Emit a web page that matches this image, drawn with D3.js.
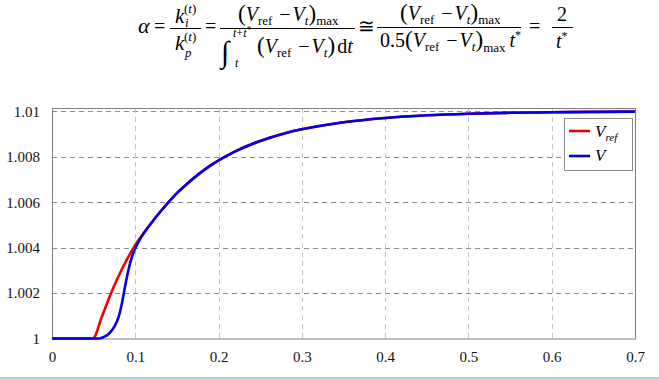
<!DOCTYPE html>
<html>
<head>
<meta charset="utf-8">
<script src="https://cdn.jsdelivr.net/npm/d3@7"></script>
<style>
  body { margin: 0; background: #fff; }
  svg { display: block; }
  text { font-family: 'Liberation Serif', 'Times New Roman', serif; }
</style>
</head>
<body>
<div class="drawingArea"></div>
<script>
// data
var tRef = [0, 0.049, 0.06, 0.07, 0.08, 0.09, 0.1, 0.11, 0.12, 0.13, 0.14, 0.15, 0.16, 0.18, 0.2, 0.22, 0.25, 0.28, 0.3, 0.35, 0.4, 0.45, 0.5, 0.55, 0.6, 0.65, 0.7];
var vRef = [1, 1, 1.00097, 1.00192, 1.00275, 1.00348, 1.00412, 1.00464, 1.00512, 1.00558, 1.00601, 1.0064, 1.00674, 1.00735, 1.00784, 1.00824, 1.0087, 1.00904, 1.00921, 1.00952, 1.00971, 1.00983, 1.0099, 1.00994, 1.00996, 1.00998, 1.00999];

var tV = [0, 0.056, 0.06, 0.064, 0.068, 0.072, 0.076, 0.08, 0.084, 0.088, 0.092, 0.096, 0.1, 0.105, 0.11, 0.12, 0.13, 0.14, 0.15, 0.16, 0.18, 0.2, 0.22, 0.25, 0.28, 0.3, 0.35, 0.4, 0.45, 0.5, 0.55, 0.6, 0.65, 0.7];
var vV = [1, 1, 1.00003, 1.0001, 1.0002, 1.00036, 1.0006, 1.00095, 1.00155, 1.00235, 1.00305, 1.0036, 1.00396, 1.00433, 1.00462, 1.00512, 1.00558, 1.00601, 1.0064, 1.00674, 1.00735, 1.00784, 1.00824, 1.0087, 1.00904, 1.00921, 1.00952, 1.00971, 1.00983, 1.0099, 1.00994, 1.00996, 1.00998, 1.00999];

var xTicks = [0, 0.1, 0.2, 0.3, 0.4, 0.5, 0.6, 0.7];
var yTicks = [1, 1.002, 1.004, 1.006, 1.008, 1.01];
var yTickLabels = ["1", "1.002", "1.004", "1.006", "1.008", "1.01"];

var width = 659;
var height = 380;
var serif = "'Liberation Serif', 'Times New Roman', serif";

var svg = d3.select(".drawingArea").append("svg:svg")
    .attr("width", width)
    .attr("height", height);

// plot area
var plotLeft = 52, plotRight = 635, plotTop = 108, plotBottom = 338.5;

var x = d3.scaleLinear().domain([0, 0.7]).range([plotLeft, plotRight]);
var y = d3.scaleLinear().domain([1, 1.01015]).range([plotBottom, plotTop]);

// grid
svg.append("g").selectAll("line")
    .data(yTicks.slice(1))
    .enter().append("line")
    .attr("x1", plotLeft).attr("x2", plotRight)
    .attr("y1", function(d) { return Math.round(y(d)) + 0.5; })
    .attr("y2", function(d) { return Math.round(y(d)) + 0.5; })
    .attr("stroke", "#8c8c8c")
    .attr("stroke-dasharray", "5,4");

svg.append("g").selectAll("line")
    .data(xTicks.slice(1, -1))
    .enter().append("line")
    .attr("y1", plotTop).attr("y2", plotBottom)
    .attr("x1", function(d) { return Math.round(x(d)) + 0.5; })
    .attr("x2", function(d) { return Math.round(x(d)) + 0.5; })
    .attr("stroke", "#c4c4c4")
    .attr("stroke-dasharray", "5,4");

// frame
svg.append("rect")
    .attr("x", plotLeft + 0.5).attr("y", plotTop + 0.5)
    .attr("width", plotRight - plotLeft).attr("height", plotBottom - plotTop)
    .attr("fill", "none")
    .attr("stroke", "#808080");

// axes labels through d3 axes (no tick marks)
var xAxis = svg.append("g")
    .attr("transform", "translate(0," + plotBottom + ")")
    .call(d3.axisBottom(x).tickValues(xTicks).tickSize(0).tickPadding(13).tickFormat(function(d) { return d === 0 ? "0" : d3.format(".1f")(d); }));
xAxis.attr("font-family", null);
xAxis.select(".domain").remove();
xAxis.selectAll("text").style("font-family", serif).attr("font-size", 15).attr("fill", "#111");

var yAxis = svg.append("g")
    .attr("transform", "translate(" + plotLeft + ",0)")
    .call(d3.axisLeft(y).tickValues(yTicks).tickSize(0).tickPadding(12).tickFormat(function(d, i) { return yTickLabels[i]; }));
yAxis.attr("font-family", null);
yAxis.select(".domain").remove();
yAxis.selectAll("text").style("font-family", serif).attr("font-size", 15).attr("fill", "#111");

// lines
var line = d3.line()
    .x(function(d) { return x(d[0]); })
    .y(function(d) { return y(d[1]); })
    .curve(d3.curveMonotoneX);

svg.append("path")
    .attr("d", line(d3.zip(tRef, vRef)))
    .attr("fill", "none")
    .attr("stroke", "#f00000")
    .attr("stroke-width", 2.6);

svg.append("path")
    .attr("d", line(d3.zip(tV, vV)))
    .attr("fill", "none")
    .attr("stroke", "#0000e6")
    .attr("stroke-width", 2.6);

// legend
var legend = svg.append("g");
legend.append("rect")
    .attr("x", 564.5).attr("y", 118.5)
    .attr("width", 68).attr("height", 52)
    .attr("fill", "#fff")
    .attr("stroke", "#8c8c8c");
legend.append("line").attr("x1", 569).attr("x2", 590).attr("y1", 131).attr("y2", 131)
    .attr("stroke", "#f00000").attr("stroke-width", 2.6);
legend.append("line").attr("x1", 569).attr("x2", 590).attr("y1", 156).attr("y2", 156)
    .attr("stroke", "#0000e6").attr("stroke-width", 2.6);
var l1 = legend.append("text").attr("x", 595).attr("y", 137)
    .style("font-family", serif).attr("font-style", "italic").attr("font-size", 17);
l1.append("tspan").text("V");
l1.append("tspan").attr("font-size", 11).attr("dy", 4).text("ref");
legend.append("text").attr("x", 595).attr("y", 161)
    .style("font-family", serif).attr("font-style", "italic").attr("font-size", 17).text("V");

// formula
function txt(px, py, s, size, italic, anchor) {
    return svg.append("text")
        .attr("x", px).attr("y", py)
        .style("font-family", serif)
        .attr("font-size", size || 20)
        .attr("font-style", italic ? "italic" : "normal")
        .attr("text-anchor", anchor || "start")
        .attr("fill", "#000")
        .text(s);
}

function row(px, py, parts) {
    var t = svg.append("text").attr("x", px).attr("y", py)
        .style("font-family", serif).attr("fill", "#000");
    var cur = 0;
    parts.forEach(function(p) {
        var off = p.o || 0;
        t.append("tspan")
            .attr("dy", off - cur)
            .attr("dx", p.dx || 0)
            .attr("font-size", p.s || 20)
            .attr("font-style", p.i ? "italic" : "normal")
            .text(p.t);
        cur = off;
    });
    return t;
}

function bar(x1, x2, by) {
    svg.append("line").attr("x1", x1).attr("x2", x2).attr("y1", by).attr("y2", by)
        .attr("stroke", "#000").attr("stroke-width", 1);
}

// alpha =
txt(138, 33, "\u03b1", 22, true);
txt(154, 33, "=", 20);

// k_i^(t) / k_p^(t)
bar(170, 201, 28.5);
txt(175, 23, "k", 21, true);
row(184, 13, [{t: "(", s: 13}, {t: "t", s: 13, i: true}, {t: ")", s: 13}]);
txt(185, 27, "i", 13, true);
txt(175, 50, "k", 21, true);
row(184, 41, [{t: "(", s: 13}, {t: "t", s: 13, i: true}, {t: ")", s: 13}]);
txt(185, 57, "p", 13, true);

txt(205, 33, "=", 20);

// (Vref - Vt)max / integral
bar(220, 355, 28.5);
row(238, 21, [
    {t: "(", s: 23}, {t: "V", i: true}, {t: "ref", s: 13, o: 4}, {t: " \u2212", o: 0, dx: 2},
    {t: "V", i: true, dx: 2}, {t: "t", s: 13, i: true, o: 4}, {t: ")", s: 23, o: 0},
    {t: "max", s: 13, o: 4}
]);
txt(221, 62, "\u222b", 30);
row(233, 37, [{t: "t", s: 12, i: true}, {t: "+", s: 12}, {t: "t", s: 12, i: true}, {t: "*", s: 10, o: -4}]);
txt(235, 67, "t", 12, true);
row(257, 53, [
    {t: "(", s: 23}, {t: "V", i: true}, {t: "ref", s: 13, o: 4}, {t: " \u2212", o: 0, dx: 2},
    {t: "V", i: true, dx: 2}, {t: "t", s: 13, i: true, o: 4}, {t: ")", s: 23, o: 0},
    {t: "d", dx: 2}, {t: "t", i: true}
]);

txt(358, 33, "\u2245", 20);

// (Vref - Vt)max / 0.5 (Vref - Vt)max t*
bar(377, 521, 27.5);
row(400, 20, [
    {t: "(", s: 23}, {t: "V", i: true}, {t: "ref", s: 13, o: 4}, {t: " \u2212", o: 0, dx: 2},
    {t: "V", i: true, dx: 2}, {t: "t", s: 13, i: true, o: 4}, {t: ")", s: 23, o: 0},
    {t: "max", s: 13, o: 4}
]);
row(380, 47, [
    {t: "0.5"}, {t: "(", s: 23}, {t: "V", i: true}, {t: "ref", s: 13, o: 4}, {t: " \u2212", o: 0, dx: 2},
    {t: "V", i: true, dx: 2}, {t: "t", s: 13, i: true, o: 4}, {t: ")", s: 23, o: 0},
    {t: "max", s: 13, o: 5}, {t: "t", i: true, o: 0, dx: 4}, {t: "*", s: 12, o: -8}
]);

txt(529, 33, "=", 20);

// 2 / t*
bar(552, 573, 27.5);
txt(562, 21, "2", 20, false, "middle");
row(556, 48, [{t: "t", i: true}, {t: "*", s: 12, o: -8}]);

// light band at the bottom
svg.append("rect")
    .attr("x", 0).attr("y", 377)
    .attr("width", width).attr("height", 3)
    .attr("fill", "#aadbdf");
</script>
</body>
</html>
